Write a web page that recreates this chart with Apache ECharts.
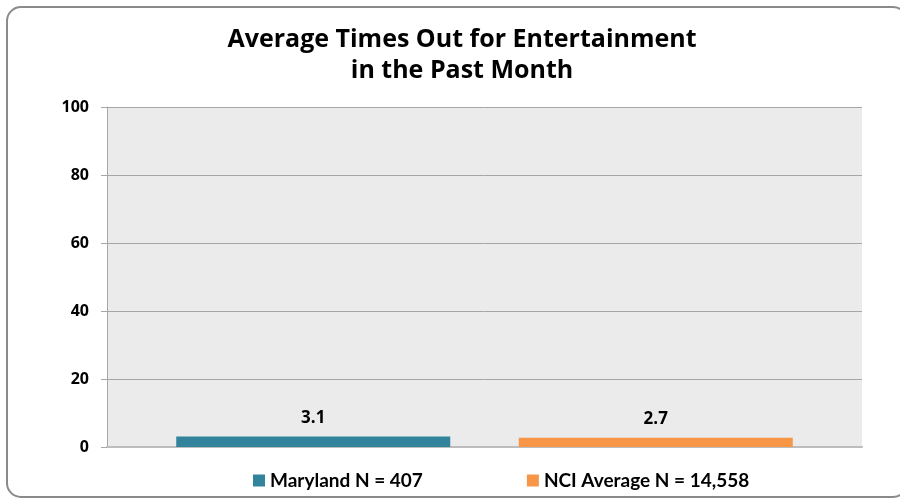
<!DOCTYPE html>
<html>
<head>
<meta charset="utf-8">
<script src="https://cdn.jsdelivr.net/npm/echarts@6/dist/echarts.min.js"></script>
<style>
  html, body { margin: 0; padding: 0; background: #fff; }
  #chart { width: 900px; height: 501px; }
</style>
</head>
<body>
<div id="chart"></div>
<script>
const titleText = 'Average Times Out for Entertainment\nin the Past Month'
const categories = ['']
const seriesNames = ['Maryland N = 407', 'NCI Average N = 14,558']
const marylandValues = [3.1]
const nciValues = [2.7]
const yTicks = [0, 20, 40, 60, 80, 100]

const colors = ['#31849b', '#f79646']

const chart = echarts.init(document.getElementById('chart'))

const labelStyle = {
  show: true,
  position: 'top',
  distance: 10,
  fontFamily: 'Open Sans',
  fontWeight: 'bold',
  fontSize: 17,
  color: '#000',
  formatter: p => p.value.toFixed(1)
}

chart.setOption({
  animation: false,
  graphic: [{
    type: 'rect',
    shape: { x: 7, y: 7, width: 900, height: 490, r: 14 },
    style: { fill: 'none', stroke: '#8a8a8a', lineWidth: 2 },
    z: -10
  }],
  title: {
    text: titleText,
    left: 457,
    top: 19,
    textAlign: 'center',
    textStyle: {
      fontFamily: 'Open Sans',
      fontWeight: 'bold',
      fontSize: 25,
      lineHeight: 31,
      color: '#000'
    }
  },
  legend: {
    bottom: 6,
    left: 248,
    itemWidth: 12,
    itemHeight: 12,
    itemGap: 104,
    icon: 'rect',
    textStyle: {
      fontFamily: 'Lato',
      fontWeight: 'bold',
      fontSize: 19,
      color: '#000'
    },
    data: seriesNames
  },
  grid: {
    left: 107,
    right: 38,
    top: 107,
    bottom: 54,
    show: true,
    backgroundColor: '#ebebeb',
    borderWidth: 0
  },
  xAxis: {
    type: 'category',
    data: categories,
    axisLine: { lineStyle: { color: '#bdbdbd', width: 2 } },
    axisTick: { show: false },
    axisLabel: { show: false }
  },
  yAxis: {
    type: 'value',
    min: yTicks[0],
    max: yTicks[yTicks.length - 1],
    interval: yTicks[1] - yTicks[0],
    axisLine: { show: true, lineStyle: { color: '#a6a6a6' } },
    axisTick: { show: true, length: 6, lineStyle: { color: '#a6a6a6' } },
    axisLabel: {
      margin: 18,
      fontFamily: 'Open Sans',
      fontWeight: 'bold',
      fontSize: 16,
      color: '#000'
    },
    splitLine: { lineStyle: { color: '#a6a6a6', width: 1 } }
  },
  series: [
    {
      name: seriesNames[0],
      type: 'bar',
      data: marylandValues,
      barWidth: 274,
      barGap: '25%',
      itemStyle: { color: colors[0] },
      label: labelStyle
    },
    {
      name: seriesNames[1],
      type: 'bar',
      data: nciValues,
      barWidth: 274,
      itemStyle: { color: colors[1] },
      label: labelStyle
    }
  ]
})
</script>
</body>
</html>
